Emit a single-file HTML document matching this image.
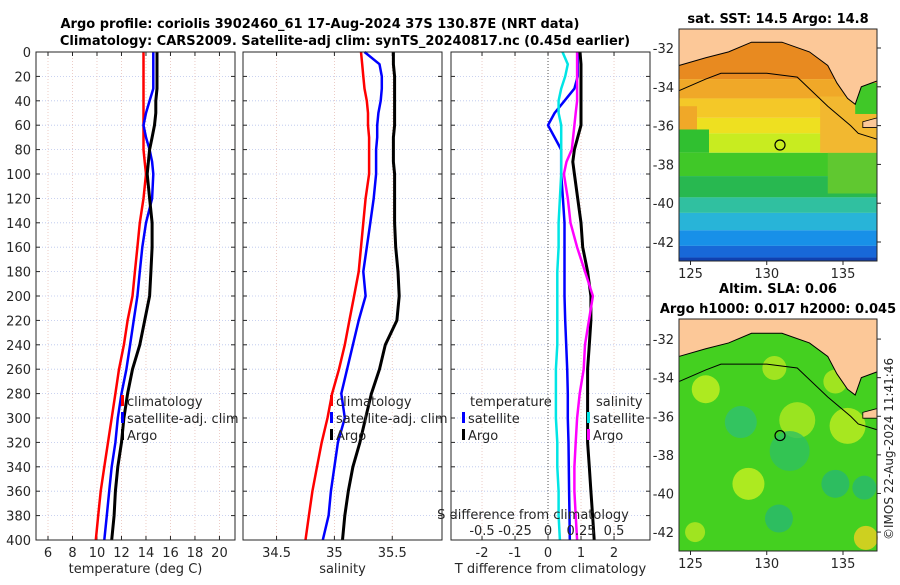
<!DOCTYPE html>
<html><head><meta charset="utf-8">
<style>
body{margin:0;background:#fff;width:900px;height:580px;overflow:hidden;font-family:"Liberation Sans","DejaVu Sans",sans-serif}
svg text{font-family:"DejaVu Sans","Liberation Sans",sans-serif;fill:#262626}
</style></head><body>
<svg id="c" width="900" height="580" viewBox="0 0 900 580">
<text x="320" y="28" text-anchor="middle" font-size="13" font-weight="bold" style="fill:#000">Argo profile: coriolis 3902460_61 17-Aug-2024 37S 130.87E (NRT data)</text>
<text x="345" y="45" text-anchor="middle" font-size="13" font-weight="bold" style="fill:#000">Climatology: CARS2009. Satellite-adj clim: synTS_20240817.nc (0.45d earlier)</text>
<g id="maps"></g>
<text transform="translate(893,540) rotate(-90)" font-size="12">©IMOS 22-Aug-2024 11:41:46</text>
</svg>
<script>
const depths=[0,10,20,30,40,50,60,70,80,90,100,120,140,160,180,200,220,240,260,280,300,320,340,360,380,400];
const tempArgo=[14.9,14.9,14.9,14.9,14.8,14.8,14.7,14.5,14.3,14.2,14.1,14.3,14.5,14.5,14.4,14.3,13.9,13.5,12.9,12.5,12.2,12.0,11.7,11.5,11.4,11.2];
const tempClim=[13.8,13.8,13.8,13.8,13.8,13.8,13.8,13.8,13.8,13.9,14.0,13.8,13.5,13.3,13.1,12.9,12.5,12.2,11.8,11.5,11.2,10.9,10.6,10.3,10.1,9.9];
const tempSat=[14.6,14.6,14.6,14.6,14.3,14.0,13.8,14.0,14.3,14.5,14.6,14.5,14.0,13.7,13.5,13.3,13.0,12.7,12.4,12.0,11.7,11.5,11.2,11.0,10.8,10.6];
const salArgo=[35.51,35.51,35.52,35.52,35.52,35.52,35.52,35.51,35.51,35.51,35.52,35.52,35.52,35.53,35.55,35.56,35.54,35.44,35.39,35.32,35.27,35.22,35.16,35.12,35.09,35.07];
const salClim=[35.23,35.24,35.25,35.26,35.28,35.29,35.29,35.30,35.30,35.30,35.30,35.27,35.25,35.23,35.21,35.17,35.13,35.09,35.04,34.98,34.94,34.89,34.85,34.81,34.78,34.75];
const salSat=[35.26,35.39,35.41,35.41,35.40,35.38,35.37,35.37,35.36,35.36,35.36,35.34,35.31,35.28,35.25,35.27,35.21,35.16,35.11,35.06,35.09,35.03,35.0,34.97,34.95,34.9];
const tdiffArgo=[0.97,1.0,1.0,1.0,1.0,1.0,1.0,0.9,0.8,0.75,0.8,0.9,1.0,1.05,1.2,1.3,1.3,1.25,1.2,1.2,1.2,1.2,1.25,1.3,1.35,1.4];
const tdiffSat=[0.9,0.9,0.9,0.8,0.5,0.2,0.0,0.2,0.4,0.4,0.4,0.45,0.5,0.5,0.5,0.5,0.52,0.55,0.58,0.6,0.6,0.62,0.63,0.64,0.65,0.66];
const sdiffArgo=[0.22,0.22,0.22,0.22,0.22,0.21,0.2,0.19,0.18,0.14,0.12,0.15,0.17,0.22,0.28,0.34,0.31,0.28,0.27,0.24,0.22,0.21,0.2,0.2,0.21,0.22];
const sdiffSat=[0.11,0.15,0.13,0.1,0.08,0.08,0.1,0.1,0.1,0.1,0.1,0.09,0.08,0.08,0.07,0.07,0.07,0.07,0.06,0.06,0.06,0.07,0.07,0.08,0.08,0.09];
const tTicks=[6,8,10,12,14,16,18,20];
const sTicks=[34.5,35,35.5];
const dTicks=[-2,-1,0,1,2];
const sdTicks=[-0.5,-0.25,0,0.25,0.5];
const sdTickLabels=["-0.5","-0.25","0","0.25","0.5"];
const depthTicks=[0,20,40,60,80,100,120,140,160,180,200,220,240,260,280,300,320,340,360,380,400];

const NS='http://www.w3.org/2000/svg',svg=document.getElementById('c');
function el(t,a,p){const e=document.createElementNS(NS,t);for(const k in a)e.setAttribute(k,a[k]);(p||svg).appendChild(e);return e;}
function txt(x,y,s,a,p){const e=el('text',Object.assign({x:x,y:y,'font-size':13},a||{}),p);e.textContent=s;return e;}
const Y0=52,Y1=540;
const yD=d=>Y0+(Y1-Y0)*d/400;
function mkx(l,r,vmin,vmax){return v=>l+(r-l)*(v-vmin)/(vmax-vmin);}
const xT=mkx(36,235,5.02,21.27), xS=mkx(243,442,34.21,35.93), xD=mkx(451,650,-2.94,3.09), xSD=v=>xD(v*4);
function panel(name,l,r,xf,ticks,labels,xlabel,showDepth){
  const g=el('g',{});
  
  
  el('rect',{x:l,y:Y0,width:r-l,height:Y1-Y0,fill:'#fff'},g);
  depthTicks.forEach(d=>{el('line',{x1:l,x2:r,y1:yD(d),y2:yD(d),stroke:'#b8c4ec','stroke-width':0.8,'stroke-dasharray':'1,2'},g);
    el('line',{x1:l,x2:l+4,y1:yD(d),y2:yD(d),stroke:'#262626'},g);el('line',{x1:r,x2:r-4,y1:yD(d),y2:yD(d),stroke:'#262626'},g);
    if(showDepth){txt(l-5,yD(d)+5,String(d),{'text-anchor':'end'},g);}});
  ticks.forEach((v,i)=>{const x=xf(v);el('line',{x1:x,x2:x,y1:Y0,y2:Y1,stroke:'#e8c0b8','stroke-width':0.8,'stroke-dasharray':'1,2'},g);
    el('line',{x1:x,x2:x,y1:Y1,y2:Y1-4,stroke:'#262626'},g);el('line',{x1:x,x2:x,y1:Y0,y2:Y0+4,stroke:'#262626'},g);
    txt(x,557,labels[i],{'text-anchor':'middle'},g);});
  txt((l+r)/2,573,xlabel,{'text-anchor':'middle'},g);
  return g;
}
function line(g,xf,vals,color,w,name){
  const p=el('polyline',{points:vals.map((v,i)=>xf(v).toFixed(1)+','+yD(depths[i]).toFixed(1)).join(' '),fill:'none',stroke:color,'stroke-width':w,'stroke-linejoin':'round'},g);
  
  
}
function frame(g,l,r){el('rect',{x:l,y:Y0,width:r-l,height:Y1-Y0,fill:'none',stroke:'#262626','stroke-width':1},g);}
function legItem(g,x,y,color,label,name){el('rect',{x:x,y:y-11,width:3,height:11,fill:color},g);const t=txt(x+6,y,label,{},g);}

let g=panel('temperature-panel',36,235,xT,tTicks,tTicks.map(String),'temperature (deg C)',true);
line(g,xT,tempClim,'#ff0000',2.5,'temp-climatology-line');
line(g,xT,tempSat,'#0000ff',2.5,'temp-satellite-line');
line(g,xT,tempArgo,'#000',3,'temp-argo-line');
legItem(g,121,406,'#ff0000','climatology','legend-climatology');
legItem(g,121,423,'#0000ff','satellite-adj. clim','legend-satellite');
legItem(g,121,440,'#000','Argo','legend-argo');
frame(g,36,235);

g=panel('salinity-panel',243,442,xS,sTicks,sTicks.map(String),'salinity',false);
line(g,xS,salClim,'#ff0000',2.5,'sal-climatology-line');
line(g,xS,salSat,'#0000ff',2.5,'sal-satellite-line');
line(g,xS,salArgo,'#000',3,'sal-argo-line');
legItem(g,330,406,'#ff0000','climatology','legend-sal-climatology');
legItem(g,330,423,'#0000ff','satellite-adj. clim','legend-sal-satellite');
legItem(g,330,440,'#000','Argo','legend-sal-argo');
frame(g,243,442);

g=panel('difference-panel',451,650,xD,dTicks,dTicks.map(String),'T difference from climatology',false);
el('line',{x1:xD(0),x2:xD(0),y1:Y0,y2:Y1,stroke:'#555','stroke-dasharray':'1,2'},g);
line(g,xD,tdiffSat,'#0000ff',2.5,'tdiff-satellite-line');
line(g,xD,tdiffArgo,'#000',3,'tdiff-argo-line');
line(g,xSD,sdiffSat,'#00e5e5',2.5,'sdiff-satellite-line');
line(g,xSD,sdiffArgo,'#ff00ff',2.5,'sdiff-argo-line');
txt(470,406,'temperature',{},g);
legItem(g,462,423,'#0000ff','satellite','legend-tdiff-satellite');
legItem(g,462,440,'#000','Argo','legend-tdiff-argo');
txt(596,406,'salinity',{},g);
legItem(g,587,423,'#00e5e5','satellite','legend-sdiff-satellite');
legItem(g,587,440,'#ff00ff','Argo','legend-sdiff-argo');
txt(533,519,'S difference from climatology',{'text-anchor':'middle'},g);
sdTicks.forEach((v,i)=>txt(xSD(v),535,sdTickLabels[i],{'text-anchor':'middle'},g));
frame(g,451,650);

// maps
const M=document.getElementById('maps');
const mx=lon=>690.5+15.25*(lon-125);
function map(name,top,bot,latTop,pxPerDeg,title1,title2,sst){
  const L=679,R=877;
  const gg=el('g',{},M);
  
  
  const my=lat=>top+(latTop-lat)*pxPerDeg;
  if(sst){
    const bands=[['#e88a20',-31],['#f0a828',-33.6],['#f4c828',-34.6],['#eee020',-35.6],['#c8ec20',-36.4],['#40c828',-37.4],['#28b850',-38.6],['#30c0a0',-39.7],['#28b4d8',-40.5],['#1890e8',-41.4],['#1868d8',-42.2],['#1040b0',-42.8]];
    bands.forEach((b,i)=>{const y1=my(b[1]),y2=i+1<bands.length?my(bands[i+1][1]):bot;el('rect',{x:L,y:y1,width:R-L,height:Math.max(0,y2-y1),fill:b[0]},gg);});
    el('rect',{x:L,y:my(-35),width:18,height:my(-36.2)-my(-35),fill:'#f0a828'},gg);
    el('rect',{x:L,y:my(-36.2),width:30,height:my(-37.4)-my(-36.2),fill:'#30c030'},gg);
    el('rect',{x:mx(134),y:my(-37.4),width:R-mx(134),height:my(-39.5)-my(-37.4),fill:'#60c830'},gg);
    el('rect',{x:mx(133.5),y:my(-34.5),width:R-mx(133.5),height:my(-37.4)-my(-34.5),fill:'#f2b830'},gg);
    el('rect',{x:mx(135.8),y:my(-33.8),width:R-mx(135.8),height:my(-35.4)-my(-33.8),fill:'#40c828'},gg);
  } else {
    el('rect',{x:L,y:top,width:R-L,height:bot-top,fill:'#44d020'},gg);
    [[mx(126),my(-34.6),14,'#c8f020'],[mx(128.3),my(-36.3),16,'#30c070'],[mx(132),my(-36.2),18,'#b0e820'],[mx(135.3),my(-36.5),18,'#c0ec20'],[mx(131.5),my(-37.8),20,'#30c060'],[mx(128.8),my(-39.5),16,'#c8f020'],[mx(134.5),my(-39.5),14,'#28b870'],[mx(136.4),my(-39.7),12,'#28b870'],[mx(130.8),my(-41.3),14,'#28b870'],[mx(136.5),my(-42.3),12,'#f0d020'],[mx(125.3),my(-42),10,'#b8e820'],[mx(130.5),my(-33.5),12,'#b8e820'],[mx(134.5),my(-34.2),12,'#b8e820']].forEach(c=>el('circle',{cx:c[0],cy:c[1],r:c[2],fill:c[3],opacity:0.8},gg));
  }
  // land
  el('path',{d:`M${L},${my(-32.9)} L${mx(126)},${my(-32.5)} L${mx(127.5)},${my(-32.2)} L${mx(129)},${my(-31.7)} L${mx(131)},${my(-31.7)} L${mx(132.8)},${my(-32.2)} L${mx(134)},${my(-32.9)} L${mx(134.6)},${my(-33.8)} L${mx(135.3)},${my(-34.6)} L${mx(135.8)},${my(-34.9)} L${mx(136.2)},${my(-34)} L${R},${my(-33.7)} L${R},${top} L${L},${top} Z`,fill:'#fcc898',stroke:'#000','stroke-width':1},gg);
  el('path',{d:`M${mx(136.3)},${my(-35.8)} L${R},${my(-35.6)} L${R},${my(-36.1)} L${mx(136.3)},${my(-36.1)} Z`,fill:'#fcc898',stroke:'#000','stroke-width':0.8},gg);
  el('path',{d:`M${L},${my(-34.2)} L${mx(126)},${my(-33.6)} L${mx(127)},${my(-33.3)} L${mx(130)},${my(-33.3)} L${mx(132)},${my(-33.5)} L${mx(134)},${my(-35)} L${mx(135.5)},${my(-36)} L${mx(136)},${my(-36.4)} L${R},${my(-36.7)}`,fill:'none',stroke:'#000','stroke-width':1},gg);
  el('circle',{cx:mx(130.87),cy:my(-37),r:5,fill:'none',stroke:'#000','stroke-width':1.2},gg);
  el('rect',{x:L,y:top,width:R-L,height:bot-top,fill:'none',stroke:'#262626'},gg);
  [-32,-34,-36,-38,-40,-42].forEach(l=>{const y=my(l);el('line',{x1:R,x2:R+4,y1:y,y2:y,stroke:'#262626'},gg);txt(L-5,y+5,String(l),{'text-anchor':'end'},gg);});
  [125,130,135].forEach(l=>{const x=mx(l);el('line',{x1:x,x2:x,y1:bot,y2:bot+4,stroke:'#262626'},gg);txt(x,bot+17,String(l),{'text-anchor':'middle'},gg);});
  if(title2) txt(778,top-26,title2,{'text-anchor':'middle','font-weight':'bold','font-size':13,style:'fill:#000'},gg);
  txt(778,top-6,title1,{'text-anchor':'middle','font-weight':'bold','font-size':13,style:'fill:#000'},gg);
}
map('sst-map',29,261,-31.02,19.4,'sat. SST: 14.5 Argo: 14.8','',true);
map('sla-map',319,551,-30.96,19.3,'Argo h1000: 0.017 h2000: 0.045','Altim. SLA: 0.06',false);
</script>
</body></html>
